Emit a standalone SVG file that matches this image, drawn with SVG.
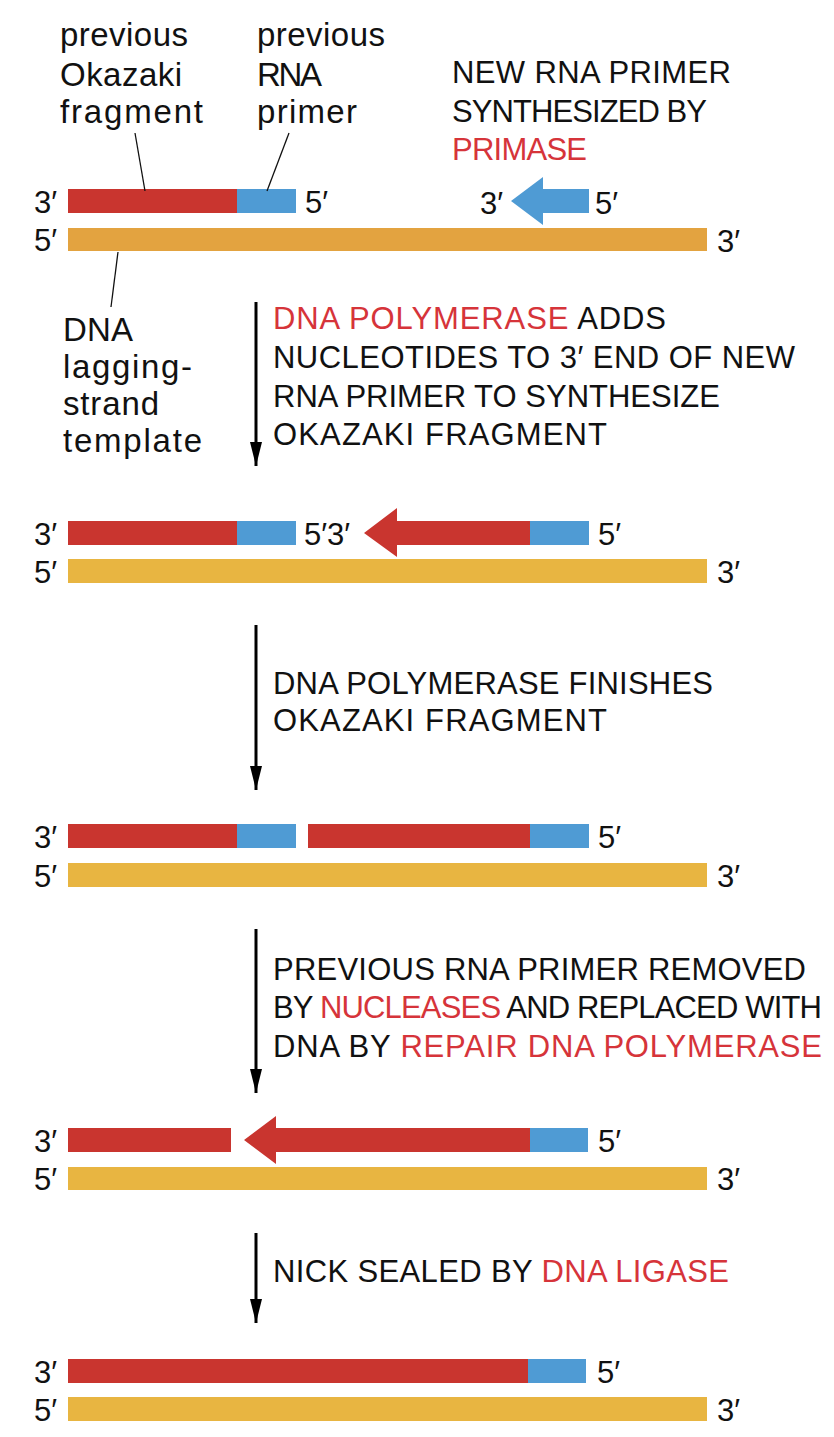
<svg xmlns="http://www.w3.org/2000/svg" width="834" height="1437" viewBox="0 0 834 1437">
<style>
text{font-family:"Liberation Sans",Arial,sans-serif;font-size:31px;fill:#111}
text.lc{font-size:33px}
.r{fill:#D6343A}
.red{fill:#C9352F}
.blue{fill:#4F9BD4}
.tpl1{fill:#E3A340}
.tpl{fill:#E8B541}
.lead{stroke:#111;stroke-width:1.3;fill:none}
.step{stroke:#000;stroke-width:3;fill:none;marker-end:url(#ah)}
</style>
<defs>
<marker id="ah" viewBox="0 0 24 12" refX="24" refY="6" markerWidth="24" markerHeight="12" markerUnits="userSpaceOnUse" orient="auto">
<path d="M0,0 L24,6 L0,12 Z" fill="#000"/>
</marker>
</defs>
<rect width="834" height="1437" fill="#fff"/>

<g id="labels-top">
<text class="lc" x="60" y="46" textLength="128">previous</text>
<text class="lc" x="60" y="86" textLength="122">Okazaki</text>
<text class="lc" x="60" y="123" textLength="143">fragment</text>
<text class="lc" x="257" y="46" textLength="128">previous</text>
<text class="lc" x="257" y="86" textLength="65">RNA</text>
<text class="lc" x="257" y="123" textLength="100">primer</text>
</g>

<g id="label-primase">
<text x="452" y="83" textLength="279">NEW RNA PRIMER</text>
<text x="452" y="122" textLength="255">SYNTHESIZED BY</text>
<text x="452" y="160" class="r" textLength="135">PRIMASE</text>
</g>

<g id="label-template">
<text class="lc" x="63" y="341" textLength="70">DNA</text>
<text class="lc" x="63" y="378" textLength="129">lagging-</text>
<text class="lc" x="63" y="415" textLength="96">strand</text>
<text class="lc" x="63" y="452" textLength="139">template</text>
</g>

<g id="row1">
<rect class="red" x="68" y="189" width="169" height="24"/>
<rect class="blue" x="237" y="189" width="59" height="24"/>
<polygon class="blue" points="589,189 543,189 543,177 511,201 543,225 543,213 589,213"/>
<rect class="tpl1" x="68" y="228" width="639" height="23"/>
<text x="34" y="213">3′</text>
<text x="305" y="213">5′</text>
<text x="480" y="214">3′</text>
<text x="595" y="214">5′</text>
<text x="34" y="251">5′</text>
<text x="717" y="252">3′</text>
</g>

<g id="step1">
<text x="273" y="329" textLength="393"><tspan class="r">DNA POLYMERASE</tspan> ADDS</text>
<text x="273" y="368" textLength="522">NUCLEOTIDES TO 3′ END OF NEW</text>
<text x="273" y="407" textLength="447">RNA PRIMER TO SYNTHESIZE</text>
<text x="273" y="445" textLength="334">OKAZAKI FRAGMENT</text>
</g>

<g id="row2">
<rect class="red" x="68" y="521" width="169" height="24"/>
<rect class="blue" x="237" y="521" width="59" height="24"/>
<polygon class="red" points="530,521 397,521 397,508 364,533 397,557 397,545 530,545"/>
<rect class="blue" x="530" y="521" width="59" height="24"/>
<rect class="tpl" x="68" y="559" width="639" height="24"/>
<text x="34" y="545">3′</text>
<text x="304" y="545">5′3′</text>
<text x="598" y="545">5′</text>
<text x="34" y="583">5′</text>
<text x="717" y="583">3′</text>
</g>

<g id="step2">
<text x="273" y="694" textLength="440">DNA POLYMERASE FINISHES</text>
<text x="273" y="731" textLength="334">OKAZAKI FRAGMENT</text>
</g>

<g id="row3">
<rect class="red" x="68" y="824" width="169" height="24"/>
<rect class="blue" x="237" y="824" width="59" height="24"/>
<rect class="red" x="308" y="824" width="222" height="24"/>
<rect class="blue" x="530" y="824" width="59" height="24"/>
<rect class="tpl" x="68" y="863" width="639" height="24"/>
<text x="34" y="848">3′</text>
<text x="598" y="848">5′</text>
<text x="34" y="887">5′</text>
<text x="717" y="887">3′</text>
</g>

<g id="step3">
<text x="273" y="980" textLength="533">PREVIOUS RNA PRIMER REMOVED</text>
<text x="273" y="1018" textLength="549">BY <tspan class="r">NUCLEASES</tspan> AND REPLACED WITH</text>
<text x="273" y="1057" textLength="549">DNA BY <tspan class="r">REPAIR DNA POLYMERASE</tspan></text>
</g>

<g id="row4">
<rect class="red" x="68" y="1128" width="163" height="24"/>
<polygon class="red" points="530,1128 276,1128 276,1116 244,1140 276,1164 276,1152 530,1152"/>
<rect class="blue" x="530" y="1128" width="58" height="24"/>
<rect class="tpl" x="68" y="1167" width="639" height="23"/>
<text x="34" y="1152">3′</text>
<text x="598" y="1152">5′</text>
<text x="34" y="1190">5′</text>
<text x="717" y="1190">3′</text>
</g>

<g id="step4">
<text x="273" y="1282" textLength="456">NICK SEALED BY <tspan class="r">DNA LIGASE</tspan></text>
</g>

<g id="row5">
<rect class="red" x="68" y="1359" width="460" height="24"/>
<rect class="blue" x="528" y="1359" width="58" height="24"/>
<rect class="tpl" x="68" y="1397" width="639" height="24"/>
<text x="34" y="1383">3′</text>
<text x="597" y="1383">5′</text>
<text x="34" y="1421">5′</text>
<text x="717" y="1421">3′</text>
</g>

<g id="connectors">
<line class="lead" x1="135" y1="133" x2="145" y2="191"/>
<line class="lead" x1="289" y1="133" x2="267" y2="191"/>
<line class="lead" x1="118" y1="252" x2="111" y2="307"/>
<line class="step" x1="256" y1="302" x2="256" y2="466"/>
<line class="step" x1="256" y1="625" x2="256" y2="790"/>
<line class="step" x1="256" y1="929" x2="256" y2="1093"/>
<line class="step" x1="256" y1="1233" x2="256" y2="1323"/>
</g>
</svg>
